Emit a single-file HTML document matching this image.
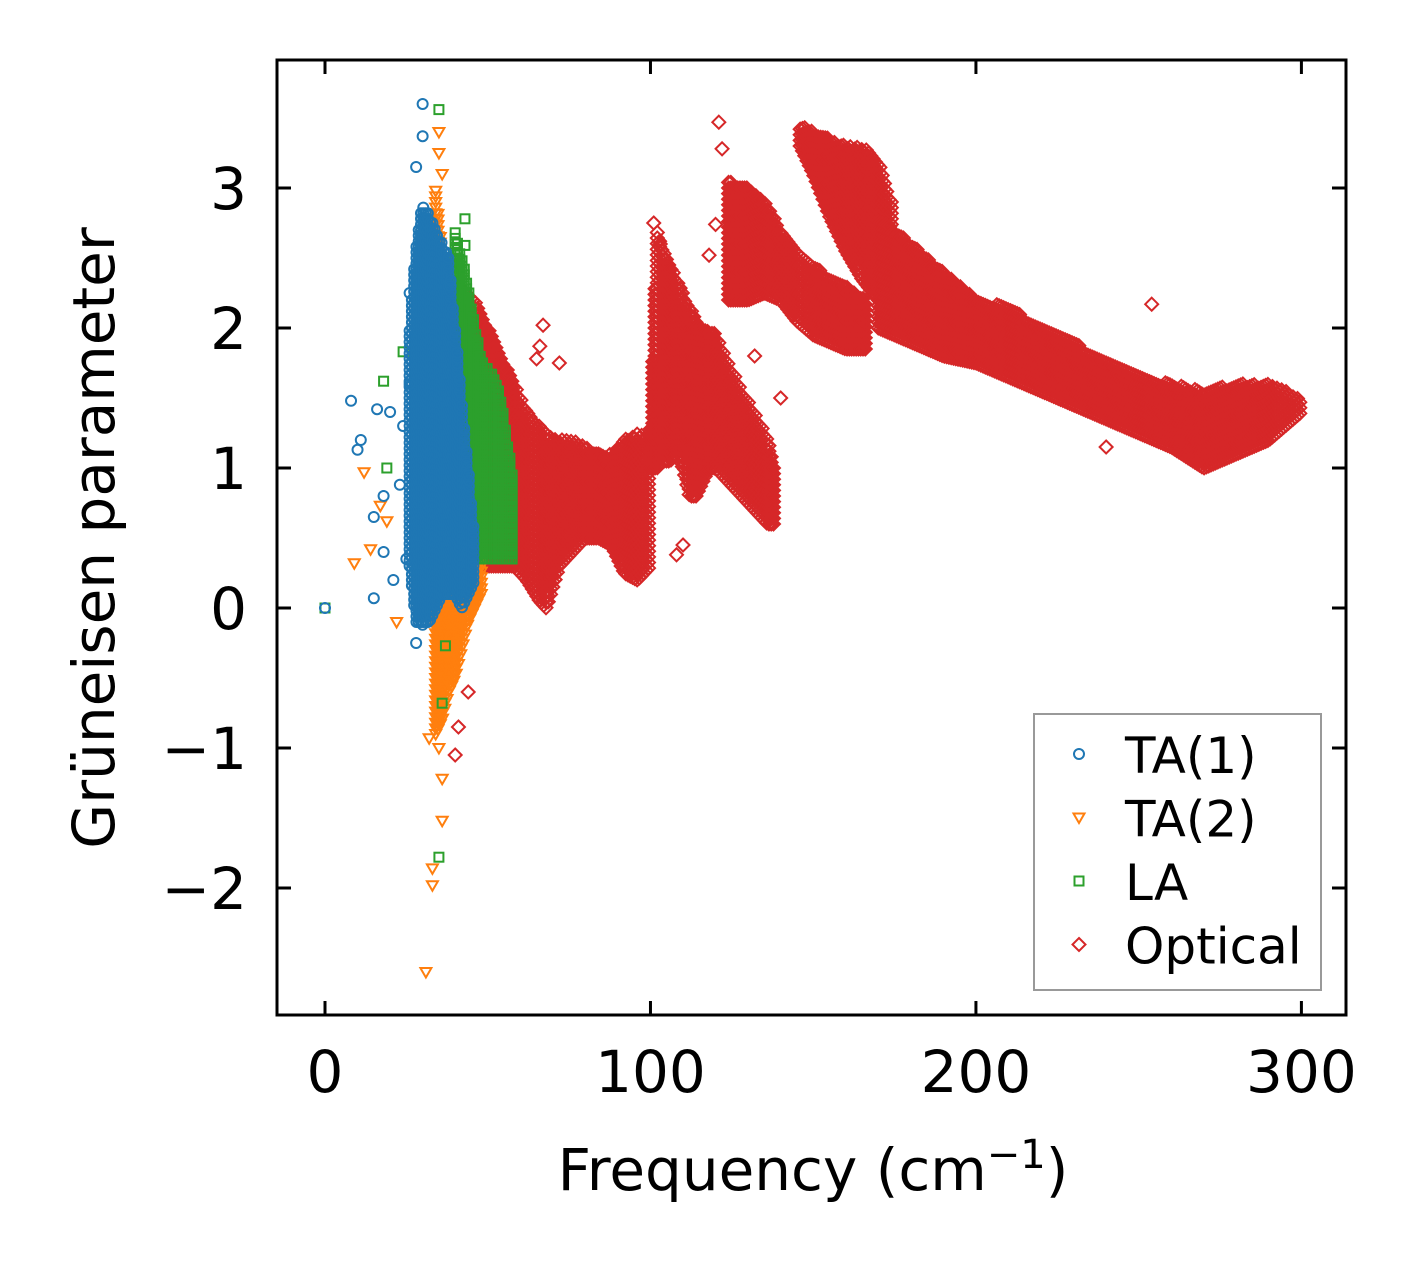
<!DOCTYPE html>
<html><head><meta charset="utf-8">
<style>
html,body{margin:0;padding:0;background:#fff;}
svg{display:block;font-family:"DejaVu Sans","Liberation Sans",sans-serif;}
</style></head>
<body>
<svg id="chart" width="1419" height="1264" viewBox="0 0 1419 1264" xmlns="http://www.w3.org/2000/svg">
<g id="marks"></g>
<rect x="277" y="60" width="1069" height="955" fill="none" stroke="#000" stroke-width="3"/>
<g id="axes"></g>
<text x="813" y="1190" font-size="58" text-anchor="middle">Frequency (cm<tspan dy="-22" font-size="40">−1</tspan><tspan dy="22">)</tspan></text>
<text transform="translate(114,538) rotate(-90)" font-size="58" text-anchor="middle">Grüneisen parameter</text>
<g>
<rect x="1034" y="714" width="287" height="276" fill="#fff" stroke="#999" stroke-width="2"/>
<g id="legend-items"></g>
</g>
</svg>
<script>
const X0=325, XS=3.2547, Y0=608, YS=140;
function sx(v){return X0+v*XS;}
function sy(v){return Y0-v*YS;}

const xTicks=[0,100,200,300];
const yTicks=[-2,-1,0,1,2,3];
const xTickLabels=["0","100","200","300"];
const yTickLabels=["−2","−1","0","1","2","3"];

const taOneFreq=[26,28,30,32,34,36,38,40,42,44,46];
const taOneHigh=[2.0,2.6,2.9,2.8,2.7,2.6,2.5,2.0,1.5,1.0,0.5];
const taOneLow=[0.3,-0.1,-0.1,-0.1,0.0,0.1,0.1,0.1,0.0,0.1,0.2];

const taTwoFreq=[34,36,38,40,42,44,46,48];
const taTwoHigh=[3.0,2.5,2.3,2.0,1.8,1.5,1.0,0.4];
const taTwoLow=[-0.9,-0.8,-0.6,-0.5,-0.3,-0.1,0.0,0.1];

const laFreq=[40,42,44,46,48,50,52,54,56,58];
const laHigh=[2.7,2.5,2.3,2.0,1.8,1.7,1.65,1.5,1.2,0.9];
const laLow=[1.0,0.9,0.5,0.4,0.35,0.35,0.35,0.35,0.35,0.35];

const optAFreq=[42,46,50,54,58,62,66,68,72,76,80,84,88,92,96,100];
const optAHigh=[2.3,2.2,2.0,1.8,1.6,1.4,1.3,1.25,1.2,1.2,1.15,1.1,1.1,1.2,1.25,1.2];
const optALow=[0.4,0.3,0.3,0.3,0.3,0.2,0.05,0.0,0.3,0.4,0.5,0.5,0.45,0.25,0.2,0.3];

const optBFreq=[100,102,104,106,108,110,112,114,116,118,120,122,124,128,132,136,138];
const optBHigh=[1.3,2.7,2.55,2.45,2.35,2.25,2.15,2.05,2.0,2.0,1.95,1.85,1.75,1.55,1.4,1.2,1.0];
const optBLow=[1.0,1.0,1.05,1.05,1.1,1.0,0.8,0.8,0.9,1.0,1.0,0.95,0.9,0.8,0.7,0.6,0.6];

const optCFreq=[124,130,135,140,145,150,155,160,166];
const optCHigh=[3.05,3.0,2.9,2.7,2.55,2.45,2.35,2.3,2.2];
const optCLow=[2.2,2.2,2.25,2.2,2.05,1.95,1.9,1.85,1.85];

const optEFreq=[146,150,155,160,165,170,174];
const optEHigh=[3.45,3.4,3.35,3.3,3.3,3.2,2.9];
const optELow=[3.3,3.1,2.8,2.55,2.35,2.2,2.1];

const optDFreq=[170,180,190,200,210,220,230,240,250,260,270,280,290,300];
const optDHigh=[2.8,2.6,2.4,2.2,2.15,2.0,1.9,1.75,1.65,1.6,1.55,1.6,1.6,1.5];
const optDLow=[2.0,1.9,1.8,1.75,1.65,1.55,1.45,1.35,1.25,1.15,1.0,1.1,1.2,1.4];

const taOneOutX=[0,8,10,11,15,15,16,18,18,20,21,23,25,26,28,30,30,28,30,26,24];
const taOneOutY=[0,1.48,1.13,1.2,0.07,0.65,1.42,0.8,0.4,1.4,0.2,0.88,0.35,2.25,3.15,3.6,3.37,-0.25,-0.12,1.6,1.3];
const taTwoOutX=[9,12,14,17,19,22,31,33,33,36,36,35,32,35,35,36,40];
const taTwoOutY=[0.32,0.97,0.42,0.73,0.62,-0.1,-2.6,-1.98,-1.86,-1.52,-1.22,-1.0,-0.93,3.4,3.25,3.1,2.5];
const laOutX=[0,18,24,35,35,36,37,43,43,28,19];
const laOutY=[0,1.62,1.83,3.56,-1.78,-0.68,-0.27,2.78,2.59,1.23,1.0];
const optOutX=[121,122,120,118,67,66,65,72,110,108,240,254,44,40,41,132,140,101,103];
const optOutY=[3.47,3.28,2.74,2.52,2.02,1.87,1.78,1.75,0.45,0.38,1.15,2.17,-0.6,-1.05,-0.85,1.8,1.5,2.75,2.6];

const NS="http://www.w3.org/2000/svg";
const COL={ta1:"#1f77b4",ta2:"#ff7f0e",la:"#2ca02c",opt:"#d62728"};

function marker(kind,cx,cy){
  let el;
  if(kind==="ta1"){el=document.createElementNS(NS,"circle");el.setAttribute("cx",cx);el.setAttribute("cy",cy);el.setAttribute("r",5);}
  else if(kind==="ta2"){el=document.createElementNS(NS,"polygon");el.setAttribute("points",`${cx-5.5},${cy-4} ${cx+5.5},${cy-4} ${cx},${cy+5.5}`);}
  else if(kind==="la"){el=document.createElementNS(NS,"rect");el.setAttribute("x",cx-4.5);el.setAttribute("y",cy-4.5);el.setAttribute("width",9);el.setAttribute("height",9);}
  else {el=document.createElementNS(NS,"polygon");el.setAttribute("points",`${cx},${cy-6.5} ${cx+6.5},${cy} ${cx},${cy+6.5} ${cx-6.5},${cy}`);}
  el.setAttribute("fill","none");el.setAttribute("stroke",COL[kind]);el.setAttribute("stroke-width","2");
  return el;
}
function lerp(xs,ys,x){
  for(let i=0;i<xs.length-1;i++){if(x>=xs[i]&&x<=xs[i+1]){const t=(x-xs[i])/(xs[i+1]-xs[i]||1);return ys[i]+t*(ys[i+1]-ys[i]);}}
  return ys[ys.length-1];
}
const marks=document.getElementById("marks");
function band(kind,fs,lo,hi,name){
  const g=document.createElementNS(NS,"g");
  
  
  for(let f=fs[0];f<=fs[fs.length-1]+1e-6;f+=0.7){
    const a=lerp(fs,lo,f),b=lerp(fs,hi,f);
    for(let v=a;v<=b+1e-6;v+=0.04){
      const m=marker(kind,sx(f),sy(v));
      
      
      g.appendChild(m);
    }
  }
  marks.appendChild(g);
}
function pts(kind,xs,ys,name){
  const g=document.createElementNS(NS,"g");
  
  
  for(let i=0;i<xs.length;i++){
    const m=marker(kind,sx(xs[i]),sy(ys[i]));
    
    
    g.appendChild(m);
  }
  marks.appendChild(g);
}
band("opt",optAFreq,optALow,optAHigh,"optical-band-a");
band("opt",optBFreq,optBLow,optBHigh,"optical-band-b");
band("opt",optCFreq,optCLow,optCHigh,"optical-band-c");
band("opt",optEFreq,optELow,optEHigh,"optical-band-e");
band("opt",optDFreq,optDLow,optDHigh,"optical-band-d");
pts("opt",optOutX,optOutY,"optical-outliers");
band("ta2",taTwoFreq,taTwoLow,taTwoHigh,"ta2-band");
pts("ta2",taTwoOutX,taTwoOutY,"ta2-outliers");
band("la",laFreq,laLow,laHigh,"la-band");
pts("la",laOutX,laOutY,"la-outliers");
band("ta1",taOneFreq,taOneLow,taOneHigh,"ta1-band");
pts("ta1",taOneOutX,taOneOutY,"ta1-outliers");

const axes=document.getElementById("axes");
function line(x1,y1,x2,y2){const l=document.createElementNS(NS,"line");l.setAttribute("x1",x1);l.setAttribute("y1",y1);l.setAttribute("x2",x2);l.setAttribute("y2",y2);l.setAttribute("stroke","#000");l.setAttribute("stroke-width","3");return l;}
function txt(x,y,s,anchor,fs){const t=document.createElementNS(NS,"text");t.setAttribute("x",x);t.setAttribute("y",y);t.setAttribute("font-size",fs);t.setAttribute("text-anchor",anchor);t.textContent=s;return t;}
xTicks.forEach((v,i)=>{
  const x=sx(v);
  const a=line(x,1015,x,1001);
  
  
  axes.appendChild(a);
  const b=line(x,60,x,74);
  
  
  axes.appendChild(b);
  const t=txt(x,1092,xTickLabels[i],"middle",58);
  
  
  axes.appendChild(t);
});
yTicks.forEach((v,i)=>{
  const y=sy(v);
  const a=line(277,y,291,y);
  
  
  axes.appendChild(a);
  const b=line(1346,y,1332,y);
  
  
  axes.appendChild(b);
  const t=txt(247,y+21,yTickLabels[i],"end",58);
  
  
  axes.appendChild(t);
});

const legendLabels=["TA(1)","TA(2)","LA","Optical"];
const legendKinds=["ta1","ta2","la","opt"];
const lg=document.getElementById("legend-items");
legendLabels.forEach((s,i)=>{
  const y=756+i*63.5;
  const m=marker(legendKinds[i],1079,y-2);
  
  
  lg.appendChild(m);
  const t=txt(1125,y+17,s,"start",50);
  
  
  lg.appendChild(t);
});
</script>
</body></html>
